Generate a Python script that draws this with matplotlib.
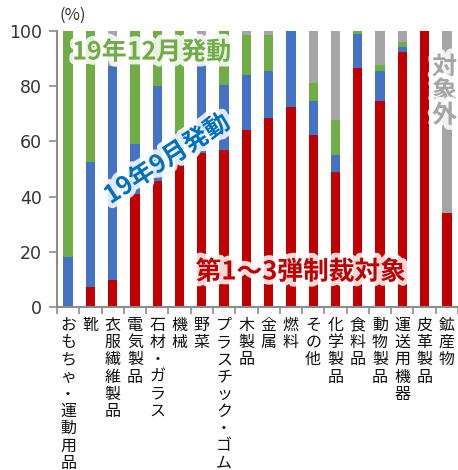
import numpy as np
import matplotlib
matplotlib.use("Agg")
import matplotlib.pyplot as plt
import matplotlib.patheffects as pe

plt.rcParams['font.family'] = ['Noto Sans CJK JP', 'DejaVu Sans']

# ---- data (percent shares per product group) ----
categories = ["おもちゃ・運動用品", "靴", "衣服繊維製品", "電気製品", "石材・ガラス",
              "機械", "野菜", "プラスチック・ゴム", "木製品", "金属", "燃料", "その他",
              "化学製品", "食料品", "動物製品", "運送用機器", "皮革製品", "鉱産物"]
red   = [0, 7.4, 9.8, 41.0, 45.5, 51.4, 55.8, 57.0, 64.0, 68.6, 72.6, 62.5, 49.0, 86.7, 74.7, 92.3, 100, 34.0]
blue  = [18.2, 45.3, 77.6, 18.1, 34.7, 12.1, 32.4, 23.4, 20.0, 17.0, 27.4, 12.2, 6.0, 12.2, 10.8, 2.0, 0, 0]
green = [81.8, 47.3, 0, 40.9, 19.8, 36.5, 0, 19.6, 14.6, 13.0, 0, 6.6, 12.8, 1.1, 2.2, 1.8, 0, 0]
gray  = [0, 0, 12.6, 0, 0, 0, 11.8, 0, 1.4, 1.4, 0, 18.7, 32.2, 0, 12.3, 3.9, 0, 66.0]

C_RED = "#C00000"
C_BLUE = "#4472C4"
C_GREEN = "#70AD47"
C_GRAY = "#A5A5A5"

fig = plt.figure(figsize=(4.58, 4.70), dpi=100)
ax = fig.add_axes([0.1245, 0.3468, 0.8755, 0.5872])

x = np.arange(len(categories))
w = 0.42
bottom = np.zeros(len(categories))
for vals, col in [(red, C_RED), (blue, C_BLUE), (green, C_GREEN), (gray, C_GRAY)]:
    ax.bar(x, vals, w, bottom=bottom, color=col, linewidth=0, zorder=2)
    bottom += np.array(vals)

ax.set_xlim(-0.5, len(categories) - 0.5)
ax.set_ylim(0, 100)
ax.set_yticks([0, 20, 40, 60, 80, 100])
ax.tick_params(axis='y', labelsize=12.5, colors='#333333', length=6, color='#8c8c8c',
               width=1.2, pad=5)
for lab in ax.get_yticklabels():
    lab.set_family('DejaVu Sans')

# category labels written vertically, one character per line
ax.set_xticks(x)
ax.set_xticklabels(["\n".join(c) for c in categories], fontsize=11.5, linespacing=1.02,
                   va='top', color='#111111')
ax.tick_params(axis='x', length=0, pad=7)
ax.set_xticks(np.arange(-0.5, len(categories), 1), minor=True)
ax.tick_params(axis='x', which='minor', length=5, color='#8c8c8c', width=1.2)

for s in ['top', 'right']:
    ax.spines[s].set_visible(False)
for s in ['left', 'bottom']:
    ax.spines[s].set_color('#8c8c8c')
    ax.spines[s].set_linewidth(1.5)

fig.text(0.131, 0.968, "(%)", fontsize=12, color='#333333', ha='left', va='center')

glow = [pe.withStroke(linewidth=7, foreground='white', alpha=0.85)]
ax.text(3.75, 92.2, "19年12月発動", color=C_GREEN, fontsize=18, fontweight='bold',
        ha='center', va='center', path_effects=glow, zorder=5)
ax.text(4.45, 53.5, "19年9月発動", color="#0070C0", fontsize=18, fontweight='bold',
        ha='center', va='center', rotation=33, path_effects=glow, zorder=5)
ax.text(10.45, 12.7, "第1～3弾制裁対象", color=C_RED, fontsize=18.5, fontweight='bold',
        ha='center', va='center', path_effects=glow, zorder=5)
ax.text(16.9, 78, "対\n象\n外", color=C_GRAY, fontsize=18, fontweight='bold',
        ha='center', va='center', linespacing=1.0, path_effects=glow, zorder=5)

fig.savefig("out.png", dpi=100)
